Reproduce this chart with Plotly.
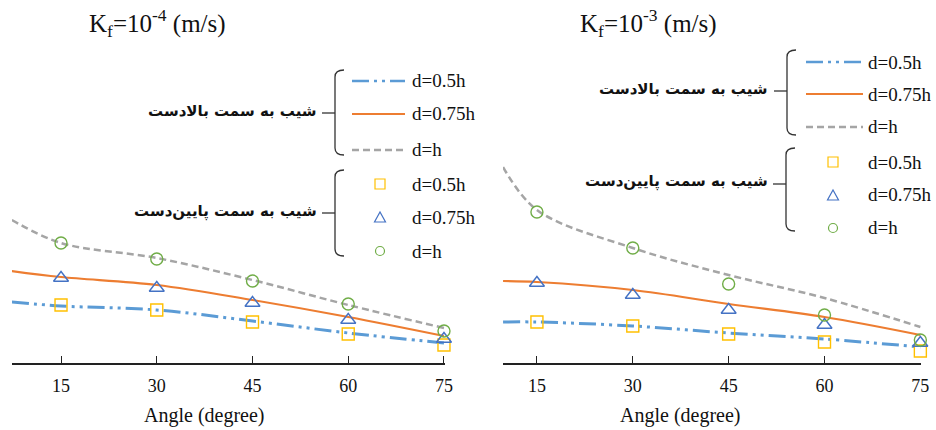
import plotly.graph_objects as go

# ---------------- data ----------------
angles = [15, 30, 45, 60, 75]
tick_labels = ["15", "30", "45", "60", "75"]

# Kf = 1e-4 panel : lines = slope upstream, markers = slope downstream
line_x_k4 = [7.3, 15, 30, 45, 60, 75]
k4_up_d05 = [0.61, 0.57, 0.53, 0.42, 0.30, 0.20]
k4_up_d075 = [0.92, 0.86, 0.78, 0.63, 0.46, 0.27]
k4_up_d1 = [1.43, 1.20, 1.05, 0.83, 0.58, 0.35]
k4_dn_d05 = [0.58, 0.53, 0.41, 0.29, 0.18]
k4_dn_d075 = [0.85, 0.75, 0.60, 0.43, 0.24]
k4_dn_d1 = [1.20, 1.04, 0.82, 0.59, 0.32]

# Kf = 1e-3 panel
line_x_k3 = [9.7, 15, 30, 45, 60, 75]
k3_up_d05 = [0.41, 0.41, 0.37, 0.30, 0.24, 0.16]
k3_up_d075 = [0.82, 0.81, 0.73, 0.59, 0.46, 0.28]
k3_up_d1 = [1.96, 1.53, 1.15, 0.88, 0.65, 0.36]
k3_dn_d05 = [0.41, 0.37, 0.29, 0.21, 0.12]
k3_dn_d075 = [0.80, 0.68, 0.53, 0.38, 0.20]
k3_dn_d1 = [1.51, 1.15, 0.79, 0.48, 0.23]

series_names = ["d=0.5h", "d=0.75h", "d=h"]
group_up = "شیب به سمت بالادست"
group_dn = "شیب به سمت پایین\u200cدست"
titles = ["K<sub>f</sub>=10<sup>-4</sup> (m/s)", "K<sub>f</sub>=10<sup>-3</sup> (m/s)"]
x_title = "Angle (degree)"

# ---------------- styles ----------------
W, H = 936, 430
BLUE = "#5B9BD5"
ORANGE = "#ED7D31"
GRAY = "#A5A5A5"
YELLOW = "#FFC000"
TRI = "#4472C4"
GREEN = "#70AD47"
SERIF = "Liberation Serif, Times New Roman, serif"
FA = "DejaVu Sans"

line_styles = [
    dict(color=BLUE, width=3, dash="17px,5px,3px,5px,3px,5px"),
    dict(color=ORANGE, width=2.2, dash="solid"),
    dict(color=GRAY, width=2.5, dash="7px,4px"),
]
marker_styles = [
    dict(symbol="square-open", color=YELLOW, size=12, line=dict(width=1.4, color=YELLOW)),
    dict(symbol="triangle-up-open", color=TRI, size=13, line=dict(width=1.4, color=TRI)),
    dict(symbol="circle-open", color=GREEN, size=12, line=dict(width=1.4, color=GREEN)),
]

fig = go.Figure()

panels = [
    ("x", "y", line_x_k4, [k4_up_d05, k4_up_d075, k4_up_d1], [k4_dn_d05, k4_dn_d075, k4_dn_d1]),
    ("x2", "y2", line_x_k3, [k3_up_d05, k3_up_d075, k3_up_d1], [k3_dn_d05, k3_dn_d075, k3_dn_d1]),
]
for xa, ya, lx, ups, dns in panels:
    for name, vals, st in zip(series_names, ups, line_styles):
        fig.add_trace(go.Scatter(x=lx, y=vals, mode="lines", name=name, xaxis=xa, yaxis=ya,
                                 line=dict(shape="spline", smoothing=1.0, **st), showlegend=False))
    for name, vals, ms in zip(series_names, dns, marker_styles):
        fig.add_trace(go.Scatter(x=angles, y=vals, mode="markers", name=name, xaxis=xa, yaxis=ya,
                                 marker=ms, cliponaxis=False, showlegend=False))


def X(p):
    return p / W


def Y(p):
    return 1 - p / H


ybot = Y(363)
yrange = [0, 3.63]  # 1 unit = 100 px, zero at the axis line
xax = dict(tickvals=angles, ticktext=tick_labels, ticks="inside", ticklen=7, tickwidth=1.2,
           tickcolor="#222", showline=True, linecolor="#222", linewidth=1.5, showgrid=False,
           zeroline=False, tickfont=dict(family=SERIF, size=18, color="#111"),
           ticklabelstandoff=6, fixedrange=True, automargin=False)
yax = dict(visible=False, range=yrange, domain=[ybot, 1.0], fixedrange=True, automargin=False)

fig.update_layout(
    template="none",
    width=W, height=H, margin=dict(l=0, r=0, t=0, b=0, autoexpand=False),
    plot_bgcolor="white", paper_bgcolor="white", showlegend=False,
    xaxis=dict(domain=[X(12), X(445)], range=[7.32, 75.16], anchor="y", **xax),
    yaxis=dict(anchor="x", **yax),
    xaxis2=dict(domain=[X(503), X(921)], range=[9.69, 75.1], anchor="y2", **xax),
    yaxis2=dict(anchor="x2", **yax),
)

annotations = []
shapes = []

# titles and axis titles
for cx, t in zip([157, 648], titles):
    annotations.append(dict(x=X(cx), y=Y(23), xref="paper", yref="paper", text=t, showarrow=False,
                            xanchor="center", yanchor="middle",
                            font=dict(family=SERIF, size=25, color="#111")))
for cx in [204, 680]:
    annotations.append(dict(x=X(cx), y=Y(415), xref="paper", yref="paper", text=x_title,
                            showarrow=False, xanchor="center", yanchor="middle",
                            font=dict(family=SERIF, size=20, color="#111")))


def bracket(bx, top, bot, mid, label, label_right):
    path = (f"M {X(bx + 9)},{Y(top)} Q {X(bx)},{Y(top)} {X(bx)},{Y(top + 7)} "
            f"L {X(bx)},{Y(bot - 7)} Q {X(bx)},{Y(bot)} {X(bx + 9)},{Y(bot)}")
    shapes.append(dict(type="path", xref="paper", yref="paper", path=path,
                       line=dict(color="#333", width=1.3)))
    shapes.append(dict(type="line", xref="paper", yref="paper", x0=X(bx - 13), x1=X(bx),
                       y0=Y(mid), y1=Y(mid), line=dict(color="#333", width=1.3)))
    annotations.append(dict(x=X(label_right), y=Y(mid - 2), xref="paper", yref="paper",
                            text="<b>" + label + "</b>", showarrow=False, xanchor="right",
                            yanchor="middle", font=dict(family=FA, size=15, color="#111")))


def legend_lines(x0, x1, ys, tx):
    for yy, st, name in zip(ys, line_styles, series_names):
        shapes.append(dict(type="line", xref="paper", yref="paper", x0=X(x0), x1=X(x1),
                           y0=Y(yy), y1=Y(yy),
                           line=dict(color=st["color"], width=min(st["width"], 2.4), dash=st["dash"])))
        annotations.append(dict(x=X(tx), y=Y(yy), xref="paper", yref="paper", text=name,
                                showarrow=False, xanchor="left", yanchor="middle",
                                font=dict(family=SERIF, size=19, color="#111")))


def legend_marks(mx, ys, tx):
    cols = [YELLOW, TRI, GREEN]
    for i, (yy, name) in enumerate(zip(ys, series_names)):
        c = cols[i]
        if i == 0:
            shapes.append(dict(type="rect", xref="paper", yref="paper", x0=X(mx - 5), x1=X(mx + 5),
                               y0=Y(yy - 5), y1=Y(yy + 5), line=dict(color=c, width=1.2)))
        elif i == 1:
            p = f"M {X(mx - 5.5)},{Y(yy + 5)} L {X(mx + 5.5)},{Y(yy + 5)} L {X(mx)},{Y(yy - 5)} Z"
            shapes.append(dict(type="path", xref="paper", yref="paper", path=p,
                               line=dict(color=c, width=1.2)))
        else:
            shapes.append(dict(type="circle", xref="paper", yref="paper", x0=X(mx - 4.5),
                               x1=X(mx + 4.5), y0=Y(yy - 4.5), y1=Y(yy + 4.5),
                               line=dict(color=c, width=1.2)))
        annotations.append(dict(x=X(tx), y=Y(yy), xref="paper", yref="paper", text=name,
                                showarrow=False, xanchor="left", yanchor="middle",
                                font=dict(family=SERIF, size=19, color="#111")))


# left panel legend
bracket(335, 70, 155, 113, group_up, 319)
legend_lines(352, 405, [81, 114, 150], 410)
bracket(335, 170, 256, 213, group_dn, 319)
legend_marks(380, [184, 217, 251], 410)

# right panel legend
bracket(787, 50, 135, 91, group_up, 770)
legend_lines(806, 863, [62, 94, 127], 866)
bracket(786, 148, 231, 184, group_dn, 770)
legend_marks(833, [162, 195, 228], 866)

fig.update_layout(annotations=annotations, shapes=shapes)
fig.write_html("out.html", config={"displayModeBar": False},
               post_script="document.body.style.margin='0';document.body.style.overflow='hidden';")
